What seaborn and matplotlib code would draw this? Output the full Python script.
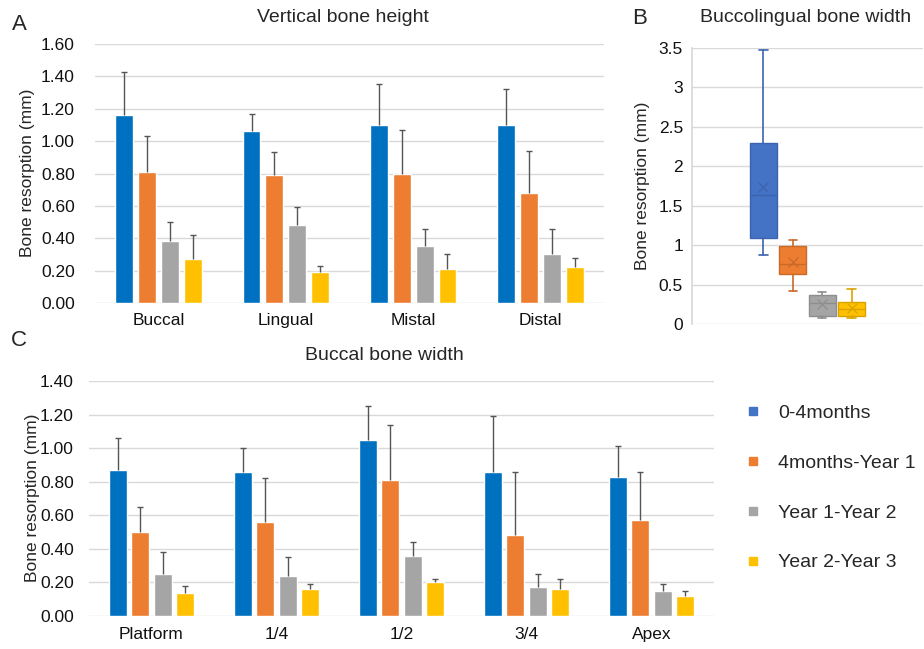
import numpy as np
import pandas as pd
import matplotlib
matplotlib.use('Agg')  # headless
import matplotlib.pyplot as plt
from matplotlib.lines import Line2D
import seaborn as sns

sns.set_theme(style="whitegrid")
plt.rcParams['font.family'] = ['Liberation Sans', 'DejaVu Sans']

periods = ["0-4months", "4months-Year 1", "Year 1-Year 2", "Year 2-Year 3"]
bar_colors = ["#0070C0", "#ED7D31", "#A5A5A5", "#FFC000"]
box_colors = ["#4472C4", "#ED7D31", "#A5A5A5", "#FFC000"]
box_edges = ["#3B64AE", "#C96A2A", "#8E8E8E", "#D9A400"]

# A - vertical bone height (mean, SD) per period, sites in order
height_sites = ["Buccal", "Lingual", "Mistal", "Distal"]
height_mean = [
    [1.16, 1.06, 1.10, 1.10],
    [0.81, 0.79, 0.80, 0.68],
    [0.38, 0.48, 0.35, 0.30],
    [0.27, 0.19, 0.21, 0.22],
]
height_sd = [
    [0.27, 0.11, 0.25, 0.22],
    [0.22, 0.14, 0.27, 0.26],
    [0.12, 0.11, 0.11, 0.16],
    [0.15, 0.04, 0.09, 0.06],
]

# C - buccal bone width (mean, SD)
width_levels = ["Platform", "1/4", "1/2", "3/4", "Apex"]
width_mean = [
    [0.87, 0.86, 1.05, 0.86, 0.83],
    [0.50, 0.56, 0.81, 0.48, 0.57],
    [0.25, 0.24, 0.36, 0.17, 0.15],
    [0.14, 0.16, 0.20, 0.16, 0.12],
]
width_sd = [
    [0.19, 0.14, 0.20, 0.33, 0.18],
    [0.15, 0.26, 0.33, 0.38, 0.29],
    [0.13, 0.11, 0.08, 0.08, 0.04],
    [0.04, 0.03, 0.02, 0.06, 0.03],
]

# B - buccolingual bone width, box summary per period
bl_whislo = [0.87, 0.42, 0.07, 0.07]
bl_q1 = [1.09, 0.63, 0.10, 0.10]
bl_med = [1.64, 0.76, 0.26, 0.19]
bl_mean = [1.74, 0.78, 0.25, 0.20]
bl_q3 = [2.29, 0.99, 0.37, 0.28]
bl_whishi = [3.47, 1.07, 0.40, 0.44]


def long_frame(cats, means, sds):
    rows = []
    for i, p in enumerate(periods):
        for j, c in enumerate(cats):
            rows.append({"cat": c, "period": p, "mean": means[i][j], "sd": sds[i][j]})
    return pd.DataFrame(rows)


def style_axes(ax, ymax, step, fmt, ypad):
    ax.set_facecolor("white")
    ax.set_ylim(0, ymax)
    ax.set_yticks(np.arange(0, ymax + step / 2, step))
    ax.yaxis.set_major_formatter(matplotlib.ticker.FuncFormatter(lambda v, _: fmt.format(v)))
    ax.grid(axis='y', color='#D9D9D9', lw=1)
    ax.grid(axis='x', visible=False)
    for s in ax.spines.values():
        s.set_visible(False)
    ax.tick_params(axis='y', length=0, pad=ypad, labelsize=12.5, colors='#111111')
    ax.tick_params(axis='x', length=0, pad=7, labelsize=12.5, colors='#111111')
    ax.set_xlabel("")
    ax.set_ylabel("")


def bar_panel(ax, cats, means, sds):
    df = long_frame(cats, means, sds)
    sns.barplot(data=df, x="cat", y="mean", hue="period", order=cats, hue_order=periods,
                palette=bar_colors, width=0.72, gap=0.22, errorbar=None, legend=False,
                saturation=1, ax=ax)
    bars = list(ax.containers)
    for i, cont in enumerate(bars):
        xs = [p.get_x() + p.get_width() / 2 for p in cont]
        ys = [p.get_height() for p in cont]
        eb = ax.errorbar(xs, ys, yerr=[np.zeros(len(ys)), sds[i]], fmt='none',
                         ecolor='#555555', elinewidth=1, capsize=2.5, capthick=1, zorder=3)
        # only the upper cap is shown
        eb[1][0].set_visible(False)
    ax.set_xlim(-0.5, len(cats) - 0.5)


fig = plt.figure(figsize=(9.24, 6.49), dpi=100)
fig.patch.set_facecolor("white")

W, H = 924, 649
def rect(x0, y0, x1, y1):
    return [x0 / W, 1 - y1 / H, (x1 - x0) / W, (y1 - y0) / H]

axA = fig.add_axes(rect(95, 44, 604, 303))
bar_panel(axA, height_sites, height_mean, height_sd)
style_axes(axA, 1.6, 0.2, "{:.2f}", 14.5)

axC = fig.add_axes(rect(89, 381, 714, 616))
bar_panel(axC, width_levels, width_mean, width_sd)
style_axes(axC, 1.4, 0.2, "{:.2f}", 11)
axC.tick_params(axis='x', pad=8)

axB = fig.add_axes(rect(692, 48, 923, 324))
stats = []
for i in range(4):
    stats.append(dict(whislo=bl_whislo[i], q1=bl_q1[i], med=bl_med[i], mean=bl_mean[i],
                      q3=bl_q3[i], whishi=bl_whishi[i], fliers=[]))
pos = (np.arange(4) - 1.5) * 0.127
bp = axB.bxp(stats, positions=pos, widths=0.118, patch_artist=True, showmeans=True,
             manage_ticks=False, capwidths=0.035)
for i in range(4):
    bp['boxes'][i].set_facecolor(box_colors[i])
    bp['boxes'][i].set_edgecolor(box_edges[i])
    bp['boxes'][i].set_linewidth(1)
    for art in bp['whiskers'][2 * i:2 * i + 2] + bp['caps'][2 * i:2 * i + 2]:
        art.set_color(box_edges[i])
        art.set_linewidth(1.2)
    bp['medians'][i].set_color(box_edges[i])
    bp['medians'][i].set_linewidth(1)
    bp['means'][i].set_marker('x')
    bp['means'][i].set_markersize(7)
    bp['means'][i].set_markeredgecolor(box_edges[i])
    bp['means'][i].set_markeredgewidth(0.9)
axB.set_xlim(-0.5, 0.5)
style_axes(axB, 3.5, 0.5, "{:g}", 6.5)
axB.set_xticks([])
axB.spines['left'].set_visible(True)
axB.spines['left'].set_color('#D9D9D9')

# titles, panel letters, y labels
fig.text(343 / W, 1 - 18 / H, "Vertical bone height", ha='center', va='center', fontsize=14)
fig.text(806 / W, 1 - 17 / H, "Buccolingual bone width", ha='center', va='center', fontsize=14)
fig.text(384 / W, 1 - 355 / H, "Buccal bone width", ha='center', va='center', fontsize=14)
fig.text(19 / W, 1 - 24 / H, "A", ha='center', va='center', fontsize=16)
fig.text(640 / W, 1 - 18 / H, "B", ha='center', va='center', fontsize=16)
fig.text(19 / W, 1 - 341 / H, "C", ha='center', va='center', fontsize=16)
for x, y in [(28, 173), (643, 186), (33, 498)]:
    fig.text(x / W, 1 - y / H, "Bone resorption (mm)", rotation=90, ha='center', va='center', fontsize=12.5)

handles = [Line2D([], [], marker='s', ls='none', markersize=6, color=c) for c in box_colors]
fig.legend(handles, periods, loc='center left', bbox_to_anchor=(745 / W, 1 - 488 / H),
           frameon=False, fontsize=14, labelspacing=1.65, handlelength=0.8,
           handletextpad=0.9, borderpad=0, borderaxespad=0)

fig.savefig("out.png", dpi=100)
